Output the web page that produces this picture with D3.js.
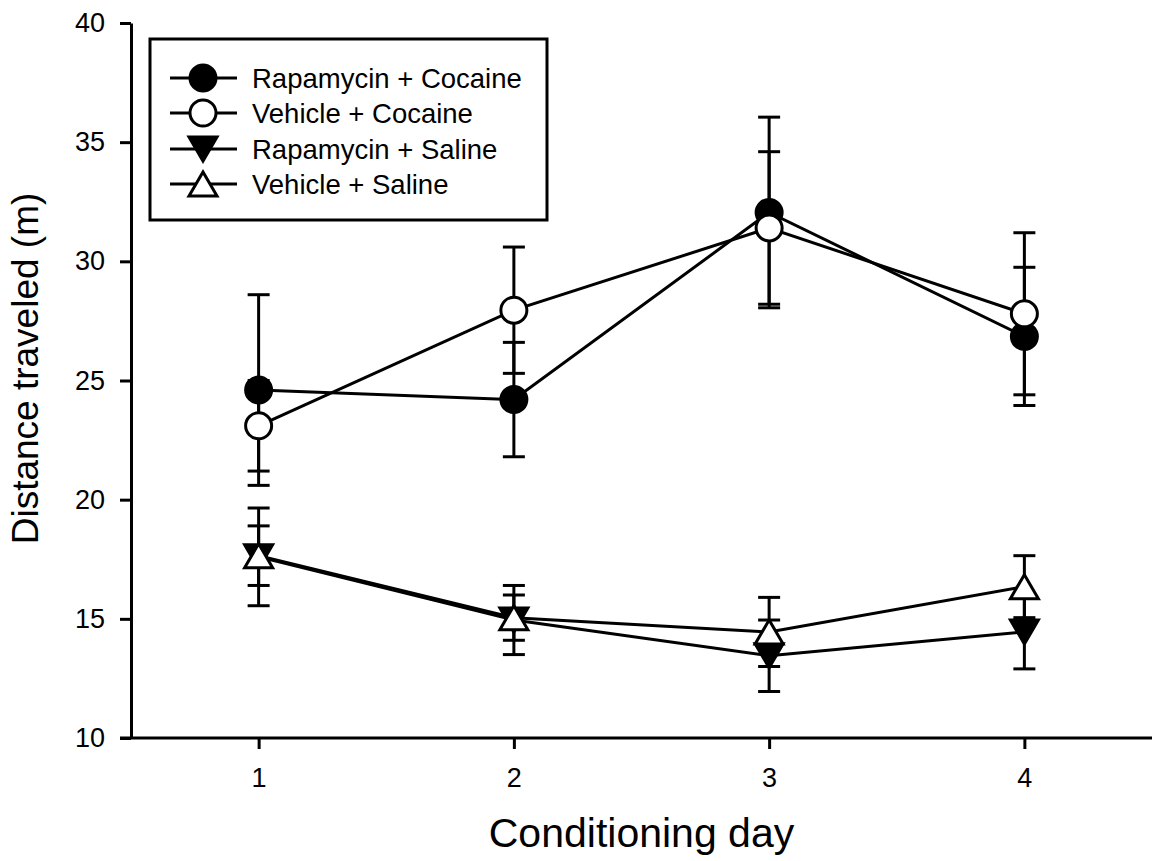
<!DOCTYPE html>
<html>
<head>
<meta charset="utf-8">
<script src="https://cdn.jsdelivr.net/npm/d3@7"></script>
<style>
  html, body { margin: 0; padding: 0; background: #fff; }
  svg { display: block; font-family: "Liberation Sans", Arial, sans-serif; }
</style>
</head>
<body>
<svg id="chart" width="1155" height="861"></svg>
<script>
// Locomotor activity across conditioning days (mean ± SEM)
const days = [1, 2, 3, 4];
const seriesNames = ["Rapamycin + Cocaine", "Vehicle + Cocaine", "Rapamycin + Saline", "Vehicle + Saline"];
const rapaCocaine = [24.6, 24.2, 32.05, 26.85];
const rapaCocaineSem = [4.0, 2.4, 4.0, 2.9];
const vehCocaine = [23.1, 27.95, 31.4, 27.8];
const vehCocaineSem = [1.9, 2.65, 3.2, 3.4];
const rapaSaline = [17.6, 14.95, 13.45, 14.45];
const rapaSalineSem = [2.05, 1.45, 1.5, 1.55];
const vehSaline = [17.65, 15.05, 14.45, 16.35];
const vehSalineSem = [1.25, 0.95, 1.45, 1.3];
const yTicks = [10, 15, 20, 25, 30, 35, 40];
const xTicks = [1, 2, 3, 4];

const series = [
  { name: seriesNames[0], values: rapaCocaine, sem: rapaCocaineSem, shape: "circle", fill: "#000" },
  { name: seriesNames[1], values: vehCocaine, sem: vehCocaineSem, shape: "circle", fill: "#fff" },
  { name: seriesNames[2], values: rapaSaline, sem: rapaSalineSem, shape: "down", fill: "#000" },
  { name: seriesNames[3], values: vehSaline, sem: vehSalineSem, shape: "up", fill: "#fff" }
];

const svg = d3.select("#chart");
const plotLeft = 131, plotRight = 1152, plotTop = 23, plotBottom = 738;

const x = d3.scaleLinear().domain([0.5, 4.5]).range([plotLeft, plotRight]);
const y = d3.scaleLinear().domain([10, 40]).range([plotBottom, plotTop]);

// Axes
const xAxis = svg.append("g").attr("transform", `translate(0,${plotBottom})`)
  .call(d3.axisBottom(x).tickValues(xTicks).tickFormat(d3.format("d")).tickSizeInner(11).tickSizeOuter(0).tickPadding(19));
const yAxis = svg.append("g").attr("transform", `translate(${plotLeft},0)`)
  .call(d3.axisLeft(y).tickValues(yTicks).tickFormat(d3.format("d")).tickSizeInner(11).tickSizeOuter(0).tickPadding(15));
[xAxis, yAxis].forEach(a => {
  a.attr("font-size", null).attr("font-family", null);
  a.select(".domain").attr("stroke", "#000").attr("stroke-width", 3);
  a.selectAll(".tick line").attr("stroke", "#000").attr("stroke-width", 3);
  a.selectAll(".tick text").attr("fill", "#000").attr("font-size", 27);
});
// extend x-axis line to meet the y-axis tick
xAxis.select(".domain").attr("d", `M${plotLeft - 11},0H${plotRight}`);

// Axis titles
svg.append("text").attr("x", (plotLeft + plotRight) / 2).attr("y", 847)
  .attr("text-anchor", "middle").attr("font-size", 41).text("Conditioning day");
svg.append("text").attr("transform", `translate(38,${(plotTop + plotBottom) / 2 - 12}) rotate(-90)`)
  .attr("text-anchor", "middle").attr("font-size", 37).text("Distance traveled (m)");

// Marker shapes
function markerPath(shape) {
  const w = 14, h = 12;
  if (shape === "down") return `M${-w},${-h}L${w},${-h}L0,${h}Z`;
  return `M${-w},${h}L${w},${h}L0,${-h}Z`;
}
function drawMarker(g, shape, fill, cx, cy) {
  if (shape === "circle") {
    g.append("circle").attr("cx", cx).attr("cy", cy).attr("r", 13)
      .attr("fill", fill).attr("stroke", "#000").attr("stroke-width", 3);
  } else {
    g.append("path").attr("d", markerPath(shape)).attr("transform", `translate(${cx},${cy})`)
      .attr("fill", fill).attr("stroke", "#000").attr("stroke-width", 3).attr("stroke-linejoin", "miter");
  }
}

const plot = svg.append("g");
const line = d3.line().x((d, i) => x(days[i])).y(d => y(d));

// Error bars
const capHalf = 11;
series.forEach(s => {
  const g = plot.append("g");
  s.values.forEach((v, i) => {
    const cx = x(days[i]);
    const hi = y(v + s.sem[i]), lo = y(v - s.sem[i]);
    g.append("line").attr("x1", cx).attr("x2", cx).attr("y1", hi).attr("y2", lo)
      .attr("stroke", "#000").attr("stroke-width", 3);
    [hi, lo].forEach(yy => g.append("line").attr("x1", cx - capHalf).attr("x2", cx + capHalf)
      .attr("y1", yy).attr("y2", yy).attr("stroke", "#000").attr("stroke-width", 3));
  });
});

// Connecting lines
series.forEach(s => {
  plot.append("path").datum(s.values).attr("d", line)
    .attr("fill", "none").attr("stroke", "#000").attr("stroke-width", 3);
});

// Markers
series.forEach(s => {
  const g = plot.append("g");
  s.values.forEach((v, i) => drawMarker(g, s.shape, s.fill, x(days[i]), y(v)));
});

// Legend
const lg = svg.append("g");
lg.append("rect").attr("x", 150).attr("y", 39).attr("width", 397).attr("height", 181)
  .attr("fill", "#fff").attr("stroke", "#000").attr("stroke-width", 3);
const rowY = [78, 113, 149, 184];
series.forEach((s, i) => {
  const ly = rowY[i];
  lg.append("line").attr("x1", 170).attr("x2", 237).attr("y1", ly).attr("y2", ly)
    .attr("stroke", "#000").attr("stroke-width", 3);
  drawMarker(lg, s.shape, s.fill, 203, ly);
  lg.append("text").attr("x", 252).attr("y", ly).attr("dy", "0.36em")
    .attr("font-size", 27.5).text(s.name);
});
</script>
</body>
</html>
